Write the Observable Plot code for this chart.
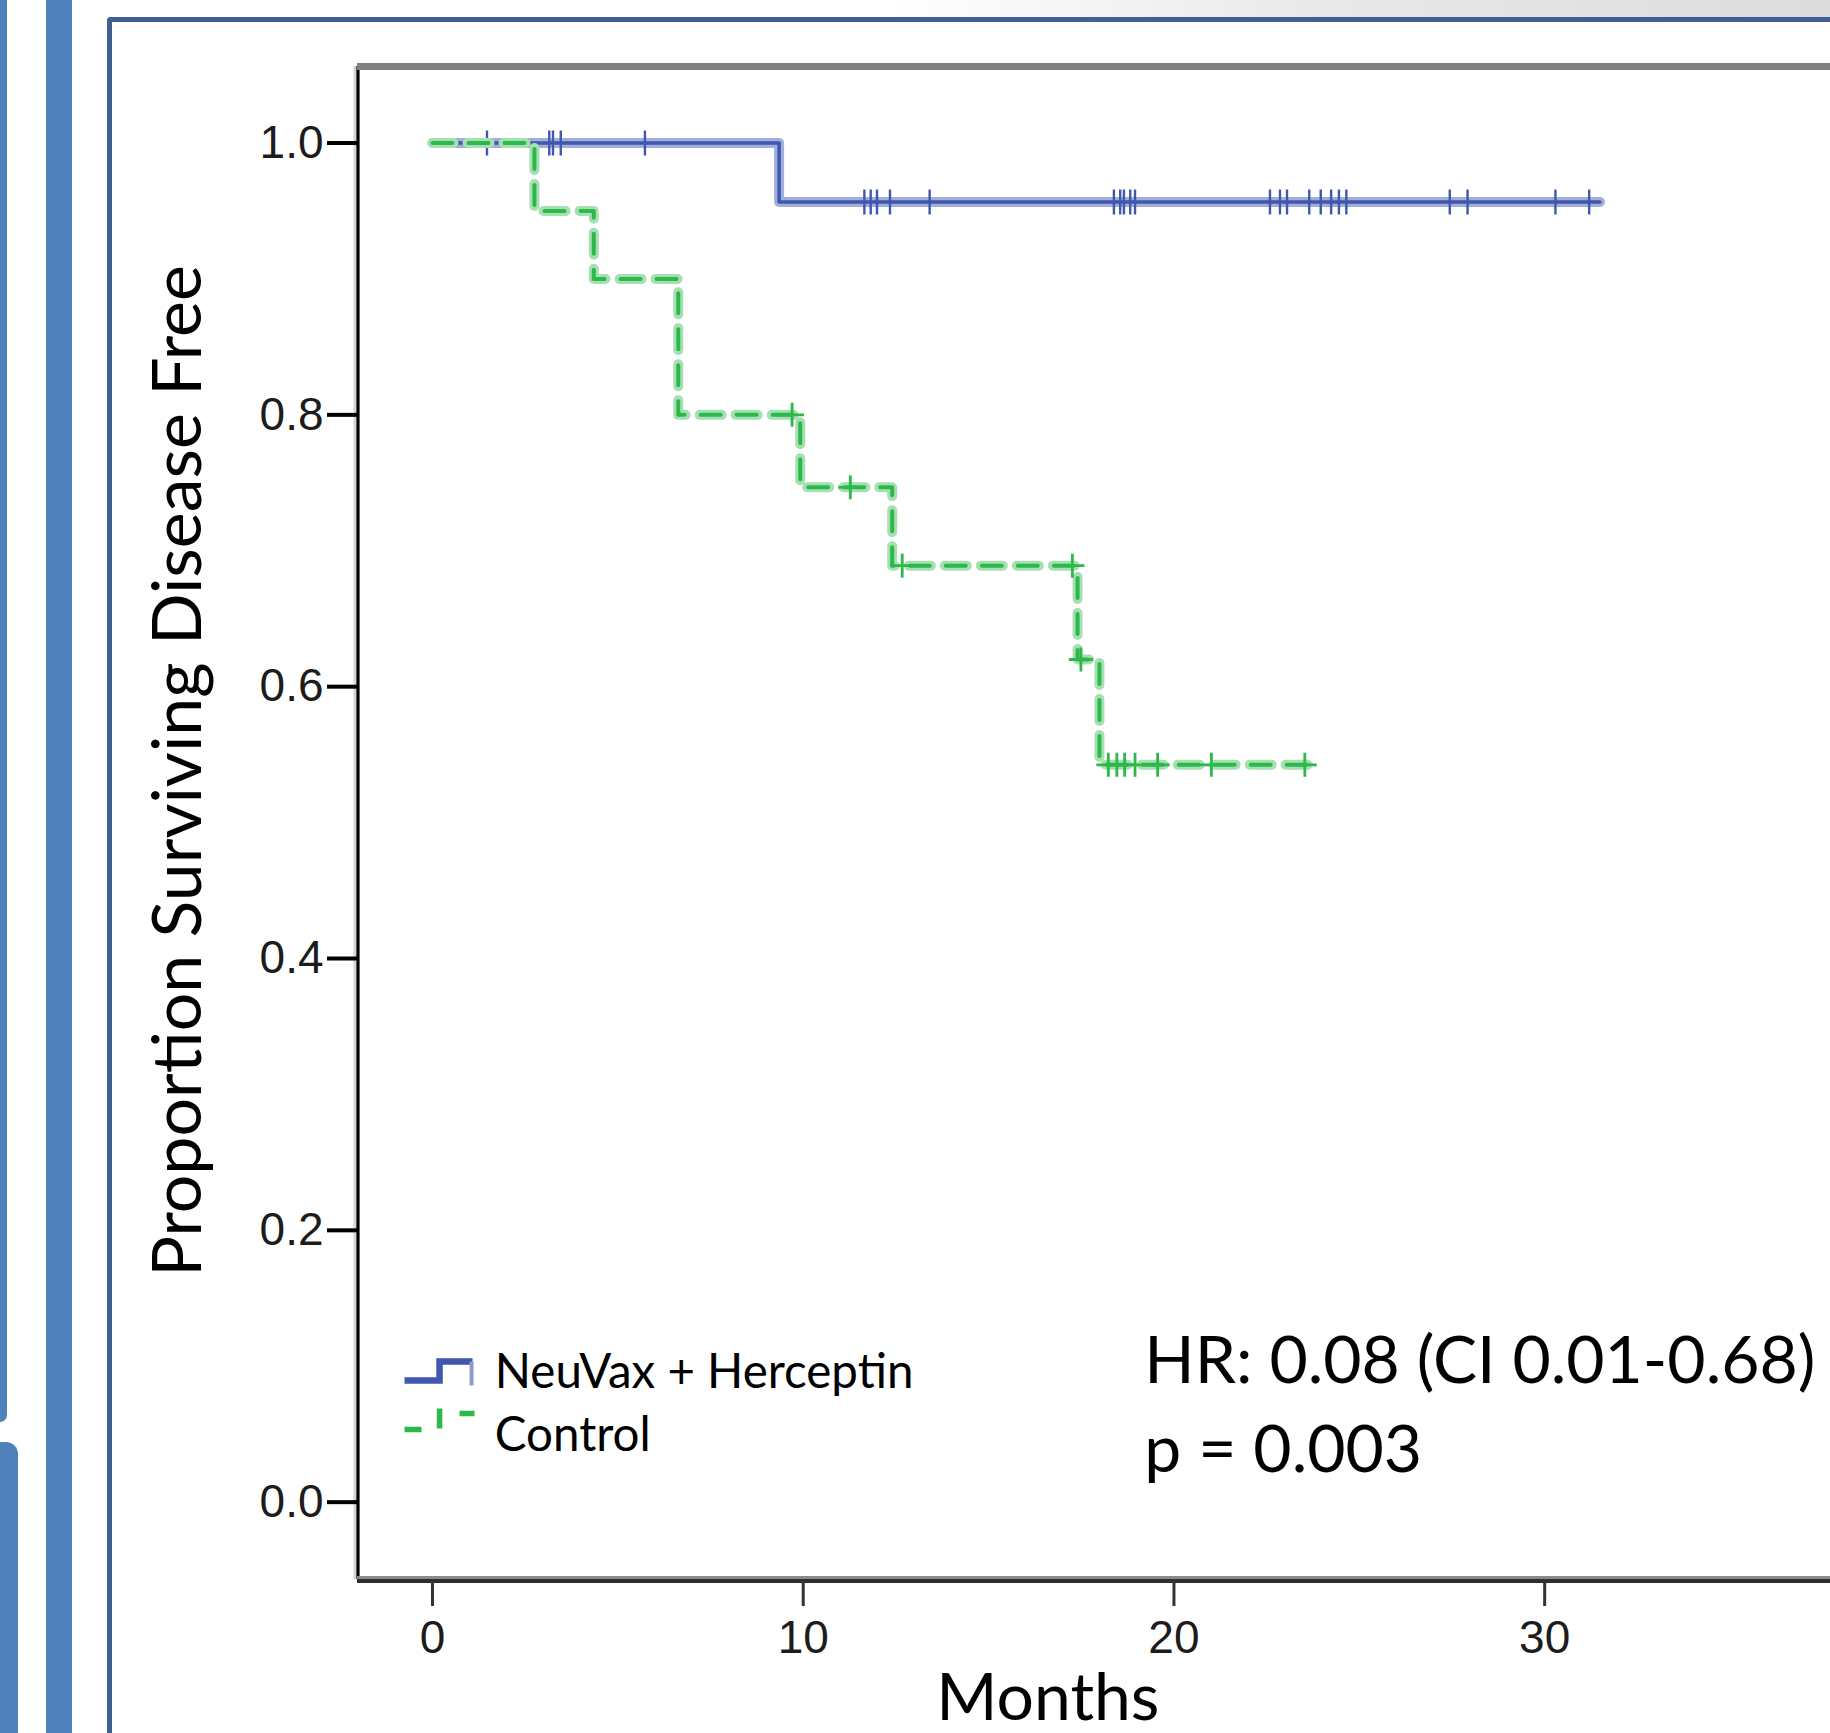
<!DOCTYPE html>
<html>
<head>
<meta charset="utf-8">
<script src="https://cdn.jsdelivr.net/npm/d3@7"></script>
<script src="https://cdn.jsdelivr.net/npm/@observablehq/plot@0.6"></script>
<style>
html, body { margin: 0; padding: 0; background: #fff; }
#slide { position: relative; width: 1830px; height: 1733px; overflow: hidden; background: #fff; }
.deco { position: absolute; }
#chart { position: absolute; left: 0; top: 0; }
</style>
</head>
<body>
<div id="slide">
  <div class="deco" style="left:0;top:0;width:7px;height:1422px;background:#4F81BD;border-bottom-right-radius:9px;"></div>
  <div class="deco" style="left:0;top:1442px;width:18px;height:291px;background:#4F81BD;border-top-right-radius:12px;"></div>
  <div class="deco" style="left:46px;top:0;width:26px;height:1733px;background:#4F81BD;"></div>
  <div class="deco" style="left:112px;top:0;width:1718px;height:17px;background:linear-gradient(to right,#ffffff 0%,#ffffff 45%,#e9e9e9 70%,#dcdcdc 100%);"></div>
  <div class="deco" style="left:107px;top:17px;width:1723px;height:1716px;border-top:5px solid #3E6190;border-left:5px solid #3E6190;border-top-left-radius:4px;box-sizing:border-box;"></div>
  <div id="chart"></div>
</div>
<script>
// ---------------- data ----------------
// Kaplan-Meier step points (time in months, proportion disease free)
const neuvaxStepTimes = [0, 9.35, 31.49];
const neuvaxStepSurv  = [1.0, 0.9566, 0.9566];
const neuvaxCensorTimes = [1.47, 3.15, 3.25, 3.46, 5.73,
  11.65, 11.82, 11.99, 12.34, 13.41,
  18.38, 18.55, 18.65, 18.82, 18.95,
  22.59, 22.86, 23.05, 23.65, 23.96, 24.24, 24.45, 24.65,
  27.44, 27.92, 30.29, 31.2];

const controlStepTimes = [0, 2.75, 4.35, 6.63, 9.92, 12.4, 17.4, 17.99, 23.86];
const controlStepSurv  = [1.0, 0.95, 0.90, 0.80, 0.7467, 0.689, 0.620, 0.5425, 0.5425];
const controlCensorTimes = [9.7, 11.27, 12.67, 17.26, 17.49,
  18.23, 18.46, 18.67, 18.95, 19.56, 21.01, 23.53];

const groupNames = ["NeuVax + Herceptin", "Control"];
const xTicks = [0, 10, 20, 30];
const yTicks = [0, 0.2, 0.4, 0.6, 0.8, 1.0];
const xTitle = "Months";
const yTitle = "Proportion Surviving Disease Free";
const statLines = ["HR: 0.08 (CI 0.01-0.68)", "p = 0.003"];

// ---------------- layout ----------------
const xDomain = [-2.023, 37.71];
const yDomain = [-0.0569, 1.0563];
const statPos = {x: 19.2, y: [0.088, 0.022]};
const legendPos = {swatchX: 0.19, swatchY: [0.0954, 0.060], textX: 1.68, textY: [0.0837, 0.038]};
const xTitlePos = 16.6;
const yTitlePos = 0.538;

const blueCore = "#3F57AE", blueHalo = "#A2AED9";
const greenCore = "#2DB84A", greenHalo = "#A6DFB2";

// ---------------- build ----------------
const toRows = (times, surv) => times.map((t, i) => ({t, s: surv[i]}));
const censorRows = (times, st, ss) => times.map(t => ({t, s: ss[d3.bisectRight(st, t) - 1]}));

const neuvax = toRows(neuvaxStepTimes, neuvaxStepSurv);
const control = toRows(controlStepTimes, controlStepSurv);
const neuvaxCens = censorRows(neuvaxCensorTimes, neuvaxStepTimes, neuvaxStepSurv);
const controlCens = censorRows(controlCensorTimes, controlStepTimes, controlStepSurv);

const tickSymbol = {draw(ctx) { ctx.moveTo(0, -12.5); ctx.lineTo(0, 12.5); }};
const plusSymbol = {draw(ctx) { ctx.moveTo(0, -12); ctx.lineTo(0, 12); ctx.moveTo(-12, 0); ctx.lineTo(12, 0); }};
const blueSwatch = {draw(ctx) { ctx.moveTo(-35, 8); ctx.lineTo(0, 8); ctx.lineTo(0, -11); ctx.lineTo(33, -11); }};
const blueSwatchDrop = {draw(ctx) { ctx.moveTo(32, -11); ctx.lineTo(32, 13); }};
const greenSwatch = {draw(ctx) {
  ctx.moveTo(-35, 9); ctx.lineTo(-18, 9);
  ctx.moveTo(0, -12); ctx.lineTo(0, 8);
  ctx.moveTo(20, -7); ctx.lineTo(35, -7);
}};

const legendRows = groupNames.map((g, i) => ({g, sx: legendPos.swatchX, sy: legendPos.swatchY[i], tx: legendPos.textX, ty: legendPos.textY[i]}));
const statRows = statLines.map((s, i) => ({s, x: statPos.x, y: statPos.y[i]}));

const chart = Plot.plot({
  width: 1830,
  height: 1733,
  marginLeft: 357,
  marginRight: 0,
  marginTop: 66,
  marginBottom: 154,
  x: {domain: xDomain},
  y: {domain: yDomain},
  style: {background: "transparent", color: "#000", overflow: "visible"},
  marks: [
    // frame
    Plot.ruleX([xDomain[0]], {stroke: "#d4d4d4", strokeWidth: 3, dx: -2.5}),
    Plot.ruleX([xDomain[0]], {stroke: "#000", strokeWidth: 3.2, dx: 0.5}),
    Plot.ruleY([yDomain[1]], {stroke: "#808080", strokeWidth: 7}),
    Plot.ruleY([yDomain[0]], {stroke: "#8a8a8a", strokeWidth: 7}),
    Plot.ruleY([yDomain[0]], {stroke: "#2e2e2e", strokeWidth: 4, dy: 1.5}),
    // axes
    Plot.axisY(yTicks, {tickSize: 30, tickPadding: 4, tickFormat: d3.format(".1f"), fontSize: 46,
      fontFamily: "'Liberation Sans', Arial, sans-serif", strokeWidth: 4, stroke: "#000", fill: "#1c1c1c", label: null}),
    Plot.axisX(xTicks, {tickSize: 27, tickPadding: 14, fontSize: 46,
      fontFamily: "'Liberation Sans', Arial, sans-serif", strokeWidth: 3, stroke: "#333", fill: "#1c1c1c", label: null}),
    // NeuVax + Herceptin
    Plot.line(neuvax, {x: "t", y: "s", curve: "step-after", stroke: blueHalo, strokeWidth: 10}),
    Plot.line(neuvax, {x: "t", y: "s", curve: "step-after", stroke: blueCore, strokeWidth: 3.6}),
    Plot.dot(neuvaxCens, {x: "t", y: "s", symbol: tickSymbol, fill: "none", stroke: blueCore, strokeWidth: 2.4}),
    // Control
    Plot.line(control, {x: "t", y: "s", curve: "step-after", stroke: greenHalo, strokeWidth: 10,
      strokeDasharray: "22,14", strokeDashoffset: 1}),
    Plot.line(control, {x: "t", y: "s", curve: "step-after", stroke: greenCore, strokeWidth: 4,
      strokeDasharray: "20,16"}),
    Plot.dot(controlCens, {x: "t", y: "s", symbol: plusSymbol, fill: "none", stroke: greenCore, strokeWidth: 2.8}),
    // legend
    Plot.dot(legendRows.slice(0, 1), {x: "sx", y: "sy", symbol: blueSwatch, fill: "none", stroke: blueCore, strokeWidth: 6.5, strokeLinejoin: "miter"}),
    Plot.dot(legendRows.slice(0, 1), {x: "sx", y: "sy", symbol: blueSwatchDrop, fill: "none", stroke: "#8E9CD2", strokeWidth: 4}),
    Plot.dot(legendRows.slice(1, 2), {x: "sx", y: "sy", symbol: greenSwatch, fill: "none", stroke: greenCore, strokeWidth: 5.5}),
    Plot.text(legendRows, {x: "tx", y: "ty", text: "g", textAnchor: "start", lineAnchor: "bottom",
      fontSize: 47.5, fontFamily: "Lato, 'Open Sans', sans-serif", fill: "#000"}),
    // statistics
    Plot.text(statRows, {x: "x", y: "y", text: "s", textAnchor: "start", lineAnchor: "bottom",
      fontSize: 66, fontFamily: "Lato, 'Open Sans', sans-serif", fill: "#000"}),
    // titles
    Plot.text([{label: xTitle, x: xTitlePos}], {x: "x", text: "label", frameAnchor: "bottom", dy: 140,
      lineAnchor: "bottom", textAnchor: "middle", fontSize: 66, fontFamily: "Lato, 'Open Sans', sans-serif", fill: "#000"}),
    Plot.text([{label: yTitle, y: yTitlePos}], {y: "y", text: "label", frameAnchor: "left", dx: -157, rotate: -90,
      lineAnchor: "bottom", textAnchor: "middle", fontSize: 68, fontFamily: "Lato, 'Open Sans', sans-serif", fill: "#000"})
  ]
});
document.getElementById("chart").appendChild(chart);
</script>
</body>
</html>
